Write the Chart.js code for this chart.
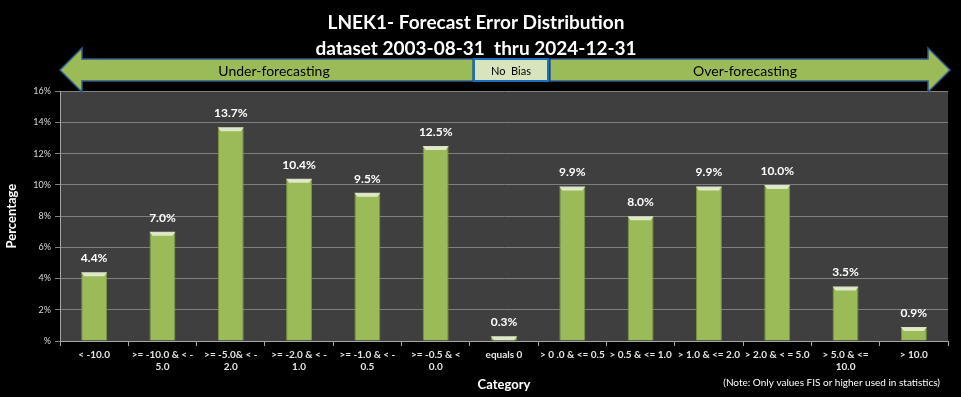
<!DOCTYPE html>
<html>
<head>
<meta charset="utf-8">
<script src="https://cdn.jsdelivr.net/npm/chart.js@4/dist/chart.umd.min.js"></script>
<style>
  html, body { margin: 0; padding: 0; background: #000; overflow: hidden; }
  #wrap { width: 961px; height: 397px; position: relative; }
</style>
</head>
<body>
<div id="wrap"><canvas id="errChart" width="961" height="397"></canvas></div>
<script>
const categories = [
  "< -10.0",
  [">= -10.0 & < -", "5.0"],
  [">= -5.0& < -", "2.0"],
  [">= -2.0 & < -", "1.0"],
  [">= -1.0 & < -", "0.5"],
  [">= -0.5 & <", "0.0"],
  "equals 0",
  "> 0 .0 & <= 0.5",
  "> 0.5 & <= 1.0",
  "> 1.0 & <= 2.0",
  "> 2.0 & < = 5.0",
  ["> 5.0 & <=", "10.0"],
  "> 10.0"
];
const percentages = [4.4, 7.0, 13.7, 10.4, 9.5, 12.5, 0.3, 9.9, 8.0, 9.9, 10.0, 3.5, 0.9];
const titleLines = ["LNEK1- Forecast Error Distribution", "dataset 2003-08-31  thru 2024-12-31"];
const bannerLabels = ["Under-forecasting", "No  Bias", "Over-forecasting"];
const noteText = "(Note: Only values FIS or higher used in statistics)";

const FONT = "Lato, 'Open Sans', sans-serif";

// dark plot background
const plotBg = {
  id: "plotBg",
  beforeDraw(chart) {
    const { ctx, chartArea: a } = chart;
    ctx.save();
    ctx.fillStyle = "#3f3f3f";
    ctx.fillRect(a.left, a.top, a.right - a.left, a.bottom - a.top);
    ctx.restore();
  }
};

// arrows + "No Bias" box above the plot
const banner = {
  id: "banner",
  afterDraw(chart) {
    const ctx = chart.ctx;
    const yMid = 70, bTop = 59, bBot = 81, hTop = 48, hBot = 92;
    ctx.save();
    ctx.lineWidth = 1.5;
    ctx.strokeStyle = "#2f5a8a";
    ctx.fillStyle = "#9bbb59";
    // left arrow
    ctx.beginPath();
    ctx.moveTo(60, yMid);
    ctx.lineTo(82, hTop);
    ctx.lineTo(82, bTop);
    ctx.lineTo(473, bTop);
    ctx.lineTo(473, bBot);
    ctx.lineTo(82, bBot);
    ctx.lineTo(82, hBot);
    ctx.closePath();
    ctx.fill(); ctx.stroke();
    // right arrow
    ctx.beginPath();
    ctx.moveTo(550, bTop);
    ctx.lineTo(928, bTop);
    ctx.lineTo(928, hTop);
    ctx.lineTo(950, yMid);
    ctx.lineTo(928, hBot);
    ctx.lineTo(928, bBot);
    ctx.lineTo(550, bBot);
    ctx.closePath();
    ctx.fill(); ctx.stroke();
    // no bias box
    ctx.fillStyle = "#d7e4bd";
    ctx.strokeStyle = "#1f6fbf";
    ctx.lineWidth = 2;
    ctx.fillRect(474, bTop, 74, bBot - bTop);
    ctx.strokeRect(474, bTop, 74, bBot - bTop);

    ctx.fillStyle = "#000";
    ctx.textAlign = "center";
    ctx.textBaseline = "middle";
    ctx.font = "14px " + FONT;
    ctx.fillText(bannerLabels[0], 274, yMid + 1);
    ctx.fillText(bannerLabels[2], 745, yMid + 1);
    ctx.font = "11px " + FONT;
    ctx.fillText(bannerLabels[1], 511, yMid + 1);

    // note
    ctx.fillStyle = "#ffffff";
    ctx.font = "10px " + FONT;
    ctx.textAlign = "right";
    ctx.fillText(noteText, 940, 383);
    ctx.restore();
  }
};

// value labels + bevel cap on each bar
const barLabels = {
  id: "barLabels",
  afterDatasetsDraw(chart) {
    const ctx = chart.ctx;
    const meta = chart.getDatasetMeta(0);
    ctx.save();
    meta.data.forEach((bar, i) => {
      const w = bar.width, x0 = bar.x - w / 2;
      const cap = Math.min(4, bar.base - bar.y);
      ctx.fillStyle = "rgba(235,241,222,0.85)";
      ctx.beginPath();
      ctx.moveTo(x0, bar.y);
      ctx.lineTo(x0 + w, bar.y);
      ctx.lineTo(x0 + w - 3, bar.y + cap);
      ctx.lineTo(x0 + 3, bar.y + cap);
      ctx.closePath();
      ctx.fill();
      ctx.fillStyle = "#ffffff";
      ctx.font = "bold 12px " + FONT;
      ctx.textAlign = "center";
      ctx.textBaseline = "bottom";
      ctx.fillText(percentages[i].toFixed(1) + "%", bar.x, bar.y - 8);
    });
    ctx.restore();
  }
};

const canvas = document.getElementById("errChart");

new Chart(canvas, {
  type: "bar",
  data: {
    labels: categories,
    datasets: [{
      label: "Percentage",
      data: percentages,
      backgroundColor: (c) => {
        const bar = c.element;
        if (!bar || !isFinite(bar.x) || !isFinite(bar.width)) return "#9bbb59";
        const g = c.chart.ctx.createLinearGradient(bar.x - bar.width / 2, 0, bar.x + bar.width / 2, 0);
        g.addColorStop(0, "#8aa84c");
        g.addColorStop(0.2, "#a2c25f");
        g.addColorStop(0.8, "#9bbb59");
        g.addColorStop(1, "#7f9c45");
        return g;
      },
      borderColor: "#7a963f",
      borderWidth: 1,
      barPercentage: 0.76,
      categoryPercentage: 0.5
    }]
  },
  options: {
    responsive: false,
    animation: false,
    devicePixelRatio: 1,
    layout: { padding: { left: 4, right: 13, top: 0, bottom: 0 } },
    plugins: {
      legend: { display: false },
      tooltip: { enabled: false },
      title: {
        display: true,
        text: titleLines,
        color: "#ffffff",
        font: { family: FONT, size: 19, weight: "bold", lineHeight: 1.35 },
        padding: { top: 10, bottom: 30 }
      }
    },
    scales: {
      x: {
        afterFit: (s) => { s.height = 56; },
        grid: { display: true, drawOnChartArea: false, drawTicks: true, tickLength: 5, color: "#a6a6a6", offset: true },
        border: { color: "#a6a6a6" },
        ticks: { color: "#e6e6e6", font: { family: FONT, size: 10, weight: "bold" }, maxRotation: 0, autoSkip: false, padding: 3 },
        title: { display: true, text: "Category", color: "#ffffff", font: { family: FONT, size: 13, weight: "bold" }, padding: { top: 4, bottom: 4 } }
      },
      y: {
        min: 0,
        max: 16,
        afterFit: (s) => { s.width = 56; },
        ticks: {
          stepSize: 2,
          color: "#d9d9d9",
          font: { family: FONT, size: 9 },
          padding: 4,
          callback: (v) => v === 0 ? "%" : v + "%"
        },
        grid: { color: "#7f7f7f", tickLength: 5, lineWidth: 1 },
        border: { color: "#a6a6a6" },
        title: { display: true, text: "Percentage", color: "#ffffff", font: { family: FONT, size: 13, weight: "bold" }, padding: { top: 0, bottom: 8 } }
      }
    }
  },
  plugins: [plotBg, banner, barLabels]
});
</script>
</body>
</html>
